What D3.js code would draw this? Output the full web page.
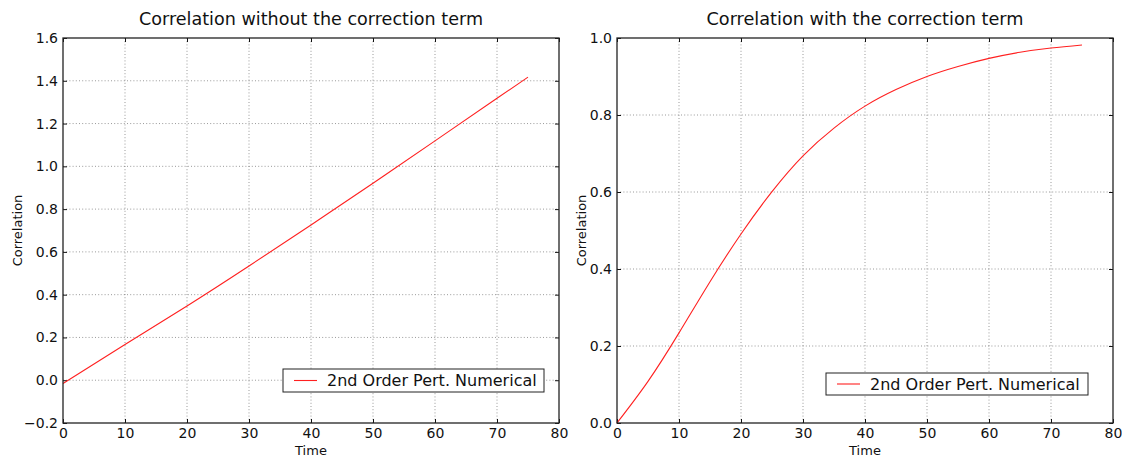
<!DOCTYPE html>
<html>
<head>
<meta charset="utf-8">
<script src="https://cdn.jsdelivr.net/npm/d3@7/dist/d3.min.js"></script>
<style>
  html, body { margin: 0; padding: 0; background: #fff; }
  svg { display: block; }
  text { font-family: "DejaVu Sans", sans-serif; fill: #111; }
</style>
</head>
<body>
<svg id="chart" width="1122" height="460"></svg>
<script>
// Correlation over time, without and with the correction term
const timeNoCorr = [0, 10, 20, 30, 40, 50, 60, 70, 75];
const corrNoCorr = [-0.015, 0.167, 0.347, 0.534, 0.726, 0.921, 1.119, 1.318, 1.417];

const timeCorr = [0, 5, 10, 15, 20, 25, 30, 35, 40, 45, 50, 55, 60, 65, 70, 75];
const corrCorr = [0, 0.108, 0.234, 0.367, 0.491, 0.601, 0.694, 0.766, 0.823, 0.866, 0.900, 0.926, 0.947, 0.963, 0.974, 0.982];

const xTicks = [0, 10, 20, 30, 40, 50, 60, 70, 80];
const yTicksLeft = [-0.2, 0.0, 0.2, 0.4, 0.6, 0.8, 1.0, 1.2, 1.4, 1.6];
const yTicksRight = [0.0, 0.2, 0.4, 0.6, 0.8, 1.0];

const titles = ["Correlation without the correction term", "Correlation with the correction term"];
const legendLabel = "2nd Order Pert. Numerical";
const xLabel = "Time";
const yLabel = "Correlation";

const svg = d3.select("#chart");

function panel(opts) {
  const { left, right, top, bottom, xs, ys, yDomain, yTicks, title, titleWidth, legendBox, ylabelX } = opts;
  const x = d3.scaleLinear().domain([0, 80]).range([left, right]);
  const y = d3.scaleLinear().domain(yDomain).range([bottom, top]);
  const g = svg.append("g");
  const fmt = d3.format(".1f");

  // dotted grid
  g.append("g").selectAll("line").data(xTicks.slice(1, -1)).join("line")
    .attr("x1", d => x(d)).attr("x2", d => x(d)).attr("y1", top).attr("y2", bottom)
    .attr("stroke", "#555").attr("stroke-width", 0.6).attr("stroke-dasharray", "1,2.2");
  g.append("g").selectAll("line").data(yTicks.slice(1, -1)).join("line")
    .attr("x1", left).attr("x2", right).attr("y1", d => y(d)).attr("y2", d => y(d))
    .attr("stroke", "#555").attr("stroke-width", 0.6).attr("stroke-dasharray", "1,2.2");

  // inward ticks on all four sides
  const ax = (gen, tx, ty) => {
    const a = g.append("g").attr("transform", `translate(${tx},${ty})`).call(gen);
    a.select(".domain").remove();
    a.selectAll(".tick line").attr("stroke", "#111");
    return a;
  };
  const bottomAx = ax(d3.axisBottom(x).tickValues(xTicks).tickSize(-4).tickPadding(5).tickFormat(d3.format("d")), 0, bottom);
  bottomAx.selectAll("text").style("font-size", "14px").attr("fill", "#111").attr("font-family", "DejaVu Sans");
  ax(d3.axisTop(x).tickValues(xTicks).tickSize(-4).tickFormat(""), 0, top);
  const leftAx = ax(d3.axisLeft(y).tickValues(yTicks).tickSize(-4).tickPadding(5).tickFormat(d => fmt(d).replace("-", "\u2212")), left, 0);
  leftAx.selectAll("text").style("font-size", "14px").attr("fill", "#111").attr("font-family", "DejaVu Sans");
  ax(d3.axisRight(y).tickValues(yTicks).tickSize(-4).tickFormat(""), right, 0);

  // series
  g.append("path")
    .datum(xs.map((t, i) => [t, ys[i]]))
    .attr("fill", "none").attr("stroke", "#ff2020").attr("stroke-width", 1.1)
    .attr("d", d3.line().x(d => x(d[0])).y(d => y(d[1])).curve(d3.curveNatural));

  // frame
  g.append("rect").attr("x", left).attr("y", top).attr("width", right - left).attr("height", bottom - top)
    .attr("fill", "none").attr("stroke", "#222").attr("stroke-width", 1.3);

  // title
  g.append("text").attr("x", (left + right) / 2).attr("y", 25).attr("text-anchor", "middle")
    .attr("font-family", "DejaVu Sans Condensed, DejaVu Sans").style("font-size", "18.5px")
    .attr("textLength", titleWidth).attr("lengthAdjust", "spacingAndGlyphs").text(title);

  // axis labels
  g.append("text").attr("x", (left + right) / 2).attr("y", 455).attr("text-anchor", "middle")
    .style("font-size", "13px").text(xLabel);
  g.append("text").attr("transform", `translate(${ylabelX},${(top + bottom) / 2}) rotate(-90)`)
    .attr("text-anchor", "middle").style("font-size", "13px").text(yLabel);

  // legend
  const [bx0, by0, bx1, by1] = legendBox;
  const lg = g.append("g");
  lg.append("rect").attr("x", bx0).attr("y", by0).attr("width", bx1 - bx0).attr("height", by1 - by0)
    .attr("fill", "#fff").attr("stroke", "#222").attr("stroke-width", 1);
  const my = (by0 + by1) / 2;
  lg.append("line").attr("x1", bx0 + 11).attr("x2", bx0 + 34).attr("y1", my).attr("y2", my)
    .attr("stroke", "#ff2020").attr("stroke-width", 1.1);
  lg.append("text").attr("x", bx0 + 44).attr("y", my + 5.5).style("font-size", "16px").text(legendLabel);
}

panel({
  left: 63, right: 559, top: 38, bottom: 423,
  xs: timeNoCorr, ys: corrNoCorr, yDomain: [-0.2, 1.6], yTicks: yTicksLeft,
  title: titles[0], titleWidth: 344, legendBox: [283, 369, 544, 392], ylabelX: 22
});
panel({
  left: 617, right: 1113, top: 38, bottom: 423,
  xs: timeCorr, ys: corrCorr, yDomain: [0, 1], yTicks: yTicksRight,
  title: titles[1], titleWidth: 317, legendBox: [826, 373, 1088, 395], ylabelX: 586
});
</script>
</body>
</html>
